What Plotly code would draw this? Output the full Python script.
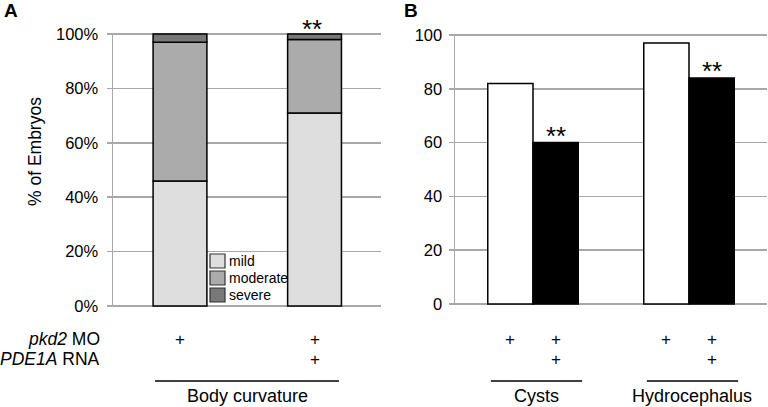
import plotly.graph_objects as go
import numpy as np

# ---------------- data ----------------
body_categories = ["pkd2 MO", "pkd2 MO + PDE1A RNA"]
severity_names = ["mild", "moderate", "severe"]
mild_pct = [46, 71]
moderate_pct = [51, 27]
severe_pct = [3, 2]
body_signif = ["", "**"]

pheno_categories = ["Cysts", "Hydrocephalus"]
pkd2_only_pct = [82, 97]
pkd2_pde1a_pct = [60, 84]
pheno_signif = ["**", "**"]

pct_ticks = [0, 20, 40, 60, 80, 100]
pct_ticklabels_a = ["0%", "20%", "40%", "60%", "80%", "100%"]
pct_ticklabels_b = ["0", "20", "40", "60", "80", "100"]
row_labels = ["<i>pkd2</i> MO", "<i>PDE1A</i> RNA"]
body_pkd2_row = ["+", "+"]
body_pde1a_row = ["", "+"]
pheno_pkd2_row = ["+", "+"]
pheno_pde1a_row = ["", "+"]

# ---------------- style ----------------
FONT = "Liberation Sans, Arial, sans-serif"
sev_colors = ["#dedede", "#ababab", "#787878"]
grid_col = "#a8a8a8"
W, H = 768, 407
YPAD = 0.4  # range padding so edge gridlines are drawn


def px(x):
    return x / W


def py(y):
    return 1 - y / H


def ydom(y0_px, y100_px):
    per = (y0_px - y100_px) / 100.0
    return [py(y0_px + YPAD * per), py(y100_px - YPAD * per)]


fig = go.Figure()

# Panel A stacked bars
bw_a = 0.40
series_a = [mild_pct, moderate_pct, severe_pct]
base = np.zeros(len(body_categories))
xa = list(range(len(body_categories)))
for name, vals, col in zip(severity_names, series_a, sev_colors):
    fig.add_trace(go.Bar(
        x=xa, y=vals, base=base.copy(), name=name,
        width=[bw_a] * len(xa), marker=dict(color=col, line=dict(color="black", width=1.5)),
        xaxis="x", yaxis="y", showlegend=False, hoverinfo="skip"))
    base = base + np.array(vals)

# Panel B grouped bars
bw_b = 0.29
xb = list(range(len(pheno_categories)))
fig.add_trace(go.Bar(x=xb, y=pkd2_only_pct, offset=-bw_b, width=[bw_b] * len(xb),
                     marker=dict(color="white", line=dict(color="black", width=1.5)),
                     xaxis="x2", yaxis="y2", showlegend=False, hoverinfo="skip"))
fig.add_trace(go.Bar(x=xb, y=pkd2_pde1a_pct, offset=0, width=[bw_b] * len(xb),
                     marker=dict(color="black", line=dict(color="black", width=1.5)),
                     xaxis="x2", yaxis="y2", showlegend=False, hoverinfo="skip"))

yax_common = dict(range=[-YPAD, 100 + YPAD], tickmode="array", tickvals=pct_ticks,
                  showgrid=True, gridcolor=grid_col, gridwidth=1.5, zeroline=False,
                  showline=True, linecolor=grid_col, linewidth=1.5,
                  ticks="outside", ticklen=5, tickcolor=grid_col, tickwidth=1.5,
                  tickfont=dict(size=16.5), automargin=False)
xax_common = dict(showticklabels=False, showgrid=False, zeroline=False, ticks="",
                  showline=False, automargin=False)

fig.update_layout(
    width=W, height=H, margin=dict(l=0, r=0, t=0, b=0, pad=0, autoexpand=False),
    paper_bgcolor="white", plot_bgcolor="white",
    barmode="overlay",
    font=dict(family=FONT, color="black", size=15),
    xaxis=dict(domain=[px(113), px(381)], range=[-0.498, 1.494], anchor="y", **xax_common),
    yaxis=dict(domain=ydom(306, 34), anchor="x", ticktext=pct_ticklabels_a,
               ticklabelstandoff=5, **yax_common),
    xaxis2=dict(domain=[px(455), px(767)], range=[-0.5, 1.5], anchor="y2", **xax_common),
    yaxis2=dict(domain=ydom(304, 35), anchor="x2", ticktext=pct_ticklabels_b,
                ticklabelstandoff=3, **yax_common),
)

ann = []
shapes = []


def text(t, x, y, xref="paper", yref="paper", size=18, xanchor="center", yanchor="middle", **kw):
    d = dict(text=t, x=x, y=y, xref=xref, yref=yref, showarrow=False,
             xanchor=xanchor, yanchor=yanchor, font=dict(size=size))
    d.update(kw)
    ann.append(d)


# y title
text("% of Embryos", px(35), py(152), size=17.5, textangle=-90)

# panel letters
text("<b>A</b>", px(2), py(11), size=19, xanchor="left")
text("<b>B</b>", px(402), py(11), size=19, xanchor="left")

# row labels
row_y = [py(339), py(359)]
for lbl, yy in zip(row_labels, row_y):
    text(lbl, px(102), yy, size=17.5, xanchor="right")

# plus marks panel A
for i, (a, b) in enumerate(zip(body_pkd2_row, body_pde1a_row)):
    for t, yy in zip((a, b), row_y):
        if t:
            text(t, i, yy, xref="x", size=17)
# plus marks panel B
for i in range(len(pheno_categories)):
    text(pheno_pkd2_row[0], i - bw_b / 2, row_y[0], xref="x2", size=17)
    text(pheno_pkd2_row[1], i + bw_b / 2, row_y[0], xref="x2", size=17)
    text(pheno_pde1a_row[1], i + bw_b / 2, row_y[1], xref="x2", size=17)

# group lines and labels
line_y = py(381)
lab_y = py(396)
shapes.append(dict(type="line", xref="x", yref="paper", x0=-0.186, x1=1.182, y0=line_y, y1=line_y,
                   line=dict(color="black", width=1.5)))
text("Body curvature", 0.498, lab_y, xref="x", size=18)
for i, cat in enumerate(pheno_categories):
    shapes.append(dict(type="line", xref="x2", yref="paper", x0=i - 0.27, x1=i + 0.315,
                       y0=line_y, y1=line_y, line=dict(color="black", width=1.5)))
    text(cat, i + 0.02, lab_y, xref="x2", size=18)

# significance marks
totals_a = np.array(mild_pct) + np.array(moderate_pct) + np.array(severe_pct)
for i, s in enumerate(body_signif):
    if s:
        text(s, i - 0.02, float(totals_a[i]), xref="x", yref="y", size=26,
             yanchor="bottom", yshift=-12)
for i, s in enumerate(pheno_signif):
    if s:
        text(s, i + bw_b / 2, pkd2_pde1a_pct[i], xref="x2", yref="y2", size=26,
             yanchor="bottom", yshift=-10)

# manual legend
leg_rows = [261, 278, 295]
shapes.append(dict(type="rect", xref="paper", yref="paper", x0=px(208), x1=px(286),
                   y0=py(304), y1=py(253), fillcolor="white", line=dict(width=0), layer="above"))
for name, col, ry in zip(severity_names, sev_colors, leg_rows):
    shapes.append(dict(type="rect", xref="paper", yref="paper", x0=px(210), x1=px(225),
                       y0=py(ry + 7), y1=py(ry - 7), fillcolor=col,
                       line=dict(color="#333333", width=1.2), layer="above"))
    text(name, px(227), py(ry), size=14, xanchor="left")

fig.update_layout(annotations=ann, shapes=shapes)
fig.write_html("out.html", config={"displayModeBar": False, "staticPlot": True},
               post_script="document.body.style.margin='0';document.body.style.overflow='hidden';")
